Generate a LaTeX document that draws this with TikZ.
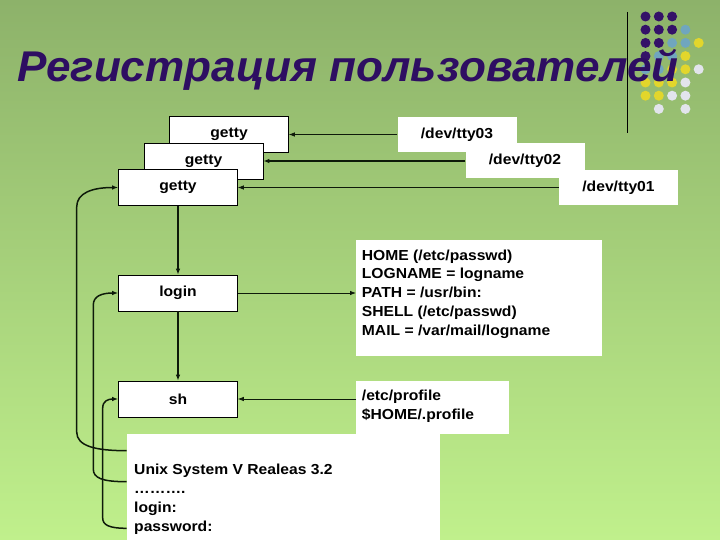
\documentclass[tikz,border=0pt]{standalone}
\usepackage{fontspec}
\setmainfont{Liberation Sans}
\newfontfamily\boxfont[FakeStretch=1.08]{Liberation Sans}
\newfontfamily\titlefont[FakeStretch=1.025]{Liberation Sans}
\usetikzlibrary{arrows.meta, positioning, calc}
\definecolor{bgtop}{RGB}{141,178,106}
\definecolor{bgbottom}{RGB}{192,240,140}
\definecolor{titleviolet}{RGB}{46,14,98}
\definecolor{dotviolet}{RGB}{52,18,104}
\definecolor{dotblue}{RGB}{112,166,190}
\definecolor{dotyellow}{RGB}{226,214,44}
\definecolor{dotwhite}{RGB}{226,228,236}
\definecolor{linkdark}{RGB}{14,26,10}

\begin{document}
\begin{tikzpicture}[x=1pt, y=-1pt,
  proc/.style={draw=black, line width=0.6pt, fill=white, minimum width=119pt, minimum height=36pt, inner sep=0pt, font=\boxfont\bfseries\fontsize{14.5}{18.7}\selectfont},
  dev/.style={fill=white, minimum width=119pt, minimum height=35pt, inner sep=0pt, font=\boxfont\bfseries\fontsize{14.5}{18.7}\selectfont},
  panel/.style={fill=white, anchor=north west, inner sep=0pt},
  listing/.style={anchor=north west, align=left, inner sep=0pt, font=\boxfont\bfseries\fontsize{14.5}{18.7}\selectfont},
  feed/.style={-{Latex[length=6pt,width=4.5pt]}, line width=0.8pt, draw=linkdark},
  feedthick/.style={feed, line width=1.7pt},
  loopback/.style={-{Latex[length=6pt,width=4.5pt]}, line width=1.5pt, draw=linkdark}
]
  \useasboundingbox (0,0) rectangle (720,540);
  \fill[top color=bgtop, bottom color=bgbottom] (0,0) rectangle (720,540);

  % Dots and title
  \foreach \c/\r/\col in {0/0/dotviolet, 1/0/dotviolet, 2/0/dotviolet,
      0/1/dotviolet, 1/1/dotviolet, 2/1/dotviolet, 3/1/dotblue,
      0/2/dotviolet, 1/2/dotviolet, 2/2/dotblue, 3/2/dotblue, 4/2/dotyellow,
      0/3/dotviolet, 1/3/dotblue, 2/3/dotblue, 3/3/dotyellow,
      0/4/dotblue, 1/4/dotblue, 2/4/dotyellow, 3/4/dotyellow, 4/4/dotwhite,
      0/5/dotyellow, 1/5/dotyellow, 2/5/dotyellow, 3/5/dotwhite,
      0/6/dotyellow, 1/6/dotyellow, 2/6/dotwhite, 3/6/dotwhite,
      1/7/dotwhite, 3/7/dotwhite}
    \fill[\col] (645.5+13.3*\c, 16.5+13.2*\r) circle (5pt);
  \draw[line width=0.8pt] (627,12) -- (627,133);
  \node[anchor=base west, inner sep=0pt, text=titleviolet, font=\titlefont\bfseries\itshape\fontsize{43}{50}\selectfont] (title) at (17,82) {Регистрация пользователей};

  % Terminals
  \node[proc] (getty3) at (229,134.5) {getty};
  \node[proc] (getty2) at (203.5,161) {getty};
  \node[proc] (getty1) at (178,187.5) {getty};
  \node[dev] (tty03) at (457,134.5) {/dev/tty03};
  \node[dev] (tty02) at (525,161) {/dev/tty02};
  \node[dev] (tty01) at (618.5,187.5) {/dev/tty01};

  \node[proc] (login) at (178,293) {login};
  \node[proc] (sh) at (178,399) {sh};

  % Panels
  \node[panel, minimum width=245.7pt, minimum height=116pt] (env) at (356,240) {};
  \node[listing] (envtext) at (361.7,249.5) {HOME (/etc/passwd)\\LOGNAME = logname\\PATH = /usr/bin:\\SHELL (/etc/passwd)\\MAIL = /var/mail/logname};
  \node[panel, minimum width=152.3pt, minimum height=53.3pt] (prof) at (356,380.7) {};
  \node[listing] (proftext) at (361.7,390) {/etc/profile\\\$HOME/.profile};
  \node[panel, minimum width=313.3pt, minimum height=112pt] (term) at (126.7,434) {};
  \node[listing, font=\boxfont\bfseries\fontsize{14.5}{19}\selectfont] (termtext) at (134,463.3) {Unix System V Realeas 3.2\\……….\\login:\\password:};

  % Arrows
  \draw[feed] (tty03.west) -- (getty3.east);
  \draw[feedthick] (tty02.west) -- (getty2.east);
  \draw[feed] (tty01.west) -- (getty1.east);
  \draw[feedthick] (getty1.south) -- (login.north);
  \draw[feedthick] (login.south) -- (sh.north);
  \draw[feed] (login.east) -- (login -| env.west);
  \draw[feed] (sh -| prof.west) -- (sh.east);

  \coordinate (tapA) at ([yshift=-16.7pt]term.north west);
  \coordinate (tapB) at ([yshift=-47.7pt]term.north west);
  \coordinate (tapC) at ([yshift=-94.3pt]term.north west);
  \draw[loopback] (tapA) .. controls (95,450.7) and (76.7,446) .. (76.7,432)
    -- (76.7,207) .. controls (76.7,193) and (92,187.5) .. (getty1.west);
  \draw[loopback] (tapB) .. controls (102,481.7) and (93.3,478) .. (93.3,469)
    -- (93.3,305) .. controls (93.3,296) and (102,293) .. (login.west);
  \draw[loopback] (tapC) .. controls (109,528.3) and (102.7,525) .. (102.7,518)
    -- (102.7,408) .. controls (102.7,401) and (108,399) .. (sh.west);
\end{tikzpicture}
\end{document}
